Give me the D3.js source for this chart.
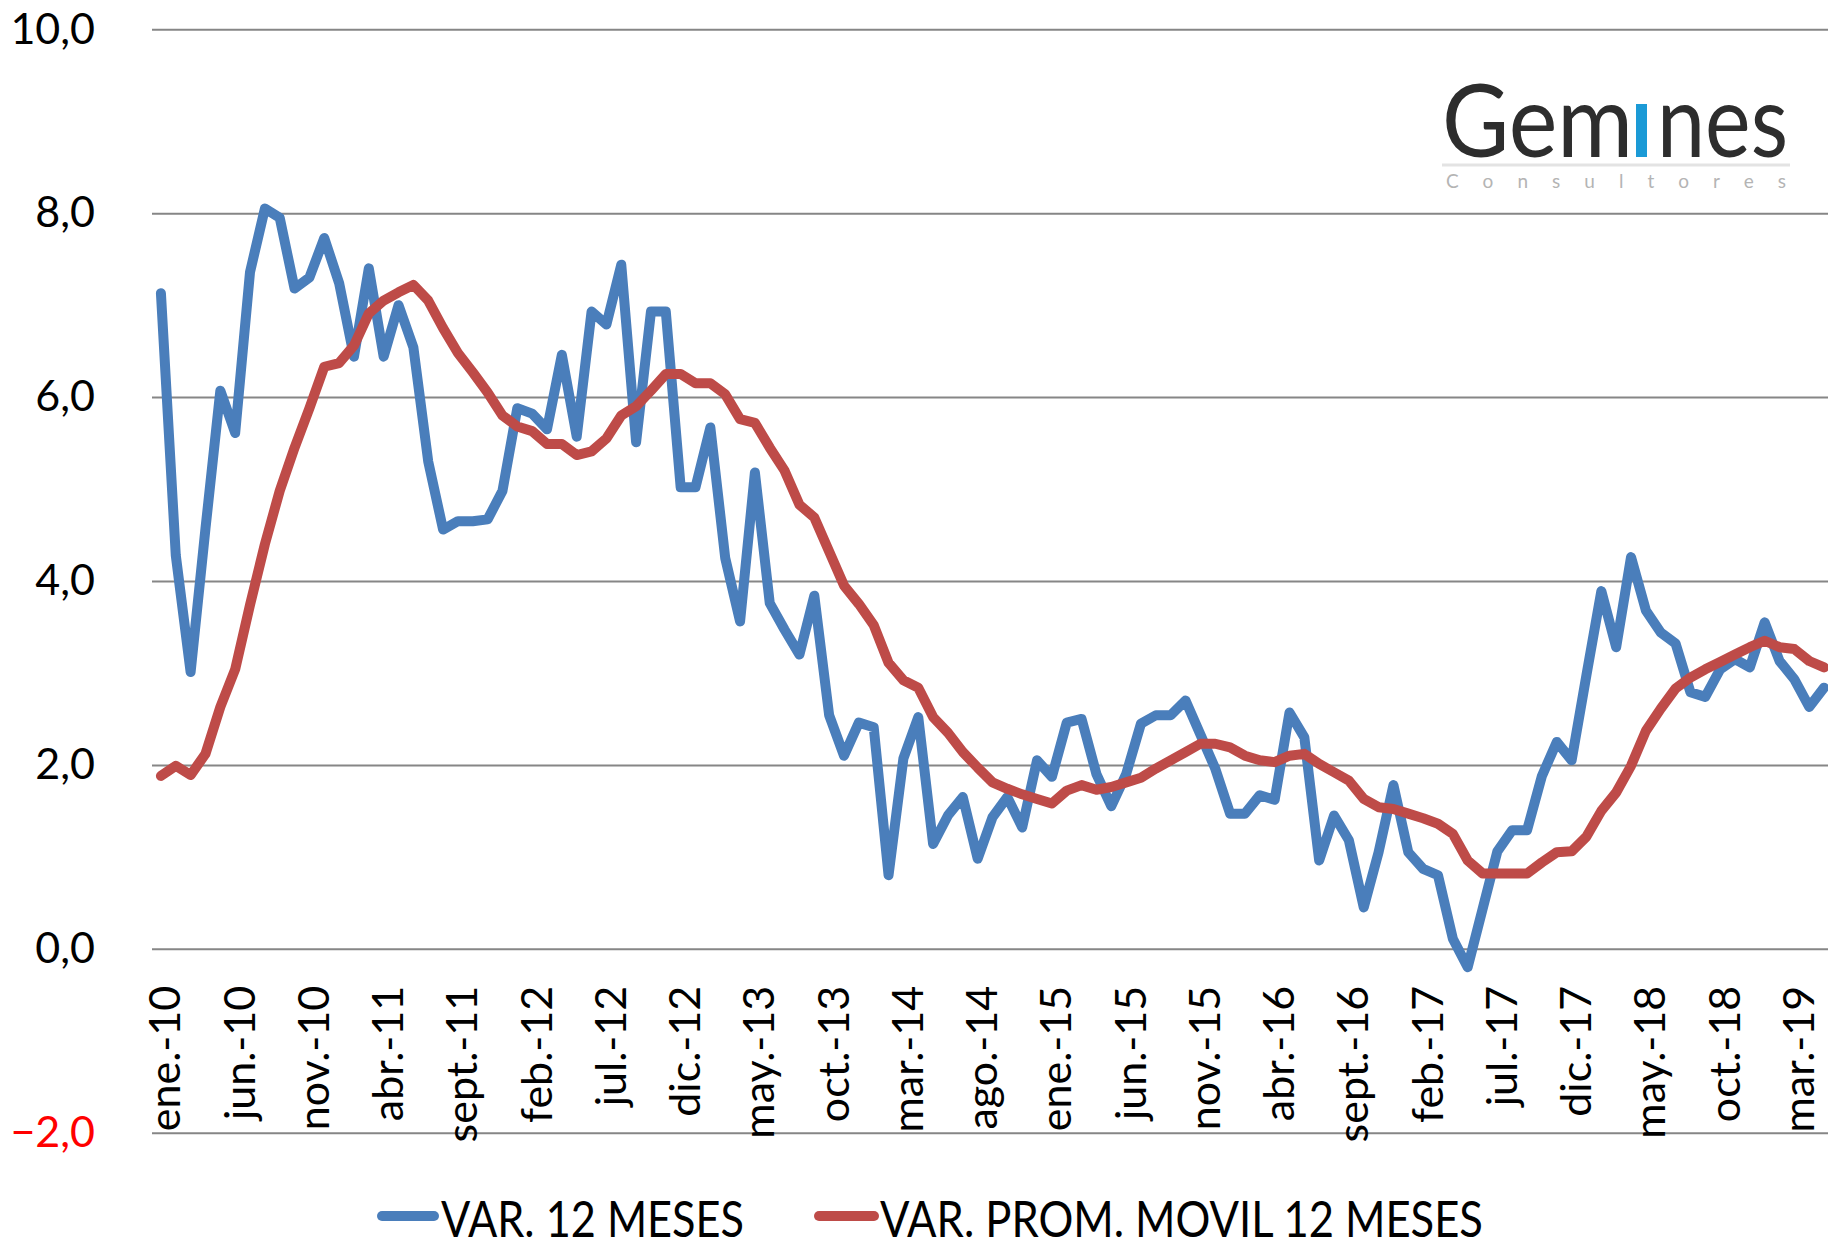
<!DOCTYPE html>
<html>
<head>
<meta charset="utf-8">
<script src="https://cdn.jsdelivr.net/npm/d3@7"></script>
<style>
    body { margin: 0; background: #ffffff; }
    svg { display: block; }
    text { font-family: Lato, "Open Sans", sans-serif; }
</style>
</head>
<body>
<svg id="chart" width="1828" height="1241"></svg>
<script>
// Layout and style constants used all over the chart
const resources = {
    width: 1828,
    height: 1241,
    plotLeft: 152,
    plotRight: 1828,
    plotTop: 29.3,
    plotBottom: 1132.7,
    gridColor: "#868686",
    blue: "#4a7ebb",
    red: "#be4b48",
    fontSize: 43,
    lineWidth: 10
};

// Monthly series, ene.-10 ... may.-19
const var12 = [
    7.13, 4.28, 3.01, 4.57, 6.07, 5.61, 7.36, 8.05, 7.95, 7.18, 7.30, 7.73,
    7.24, 6.44, 7.40, 6.44, 7.00, 6.54, 5.30, 4.56, 4.65, 4.65, 4.67, 4.98,
    5.88, 5.82, 5.65, 6.46, 5.57, 6.93, 6.79, 7.44, 5.51, 6.93, 6.93, 5.02,
    5.02, 5.67, 4.25, 3.56, 5.18, 3.76, 3.47, 3.20, 3.84, 2.54, 2.10, 2.46,
    2.41, 0.80, 2.07, 2.52, 1.14, 1.45, 1.65, 0.98, 1.43, 1.65, 1.32, 2.05,
    1.87, 2.46, 2.50, 1.90, 1.55, 1.90, 2.45, 2.54, 2.54, 2.70, 2.33, 1.96,
    1.47, 1.47, 1.67, 1.62, 2.57, 2.30, 0.96, 1.45, 1.18, 0.45, 1.05, 1.78,
    1.05, 0.87, 0.80, 0.11, -0.20, 0.43, 1.06, 1.29, 1.29, 1.88, 2.25, 2.05,
    2.98, 3.89, 3.28, 4.26, 3.68, 3.44, 3.32, 2.79, 2.74, 3.04, 3.15, 3.06,
    3.55, 3.13, 2.93, 2.63, 2.84
];
const varPromMovil = [
    1.88, 1.99, 1.89, 2.12, 2.63, 3.04, 3.74, 4.40, 4.98, 5.45, 5.88, 6.33,
    6.37, 6.56, 6.91, 7.05, 7.14, 7.22, 7.05, 6.75, 6.48, 6.27, 6.05, 5.80,
    5.68, 5.63, 5.49, 5.49, 5.37, 5.41, 5.55, 5.80, 5.90, 6.07, 6.25, 6.25,
    6.15, 6.15, 6.03, 5.76, 5.72, 5.45, 5.20, 4.83, 4.69, 4.32, 3.95, 3.75,
    3.52, 3.11, 2.92, 2.84, 2.52, 2.35, 2.14, 1.97, 1.81, 1.74, 1.68, 1.63,
    1.58, 1.72, 1.78, 1.73, 1.76, 1.81, 1.86, 1.96, 2.05, 2.14, 2.23, 2.23,
    2.19, 2.10, 2.05, 2.03, 2.10, 2.12, 2.01, 1.92, 1.83, 1.63, 1.54, 1.52,
    1.47, 1.42, 1.36, 1.25, 0.96, 0.82, 0.82, 0.82, 0.82, 0.94, 1.05, 1.06,
    1.22, 1.50, 1.70, 1.99, 2.37, 2.61, 2.83, 2.95, 3.04, 3.12, 3.20, 3.28,
    3.35, 3.28, 3.26, 3.13, 3.06
];

const monthNames = ["ene.", "feb.", "mar.", "abr.", "may.", "jun.", "jul.", "ago.", "sept.", "oct.", "nov.", "dic."];
const months = var12.map((v, i) => monthNames[i % 12] + "-" + (10 + Math.floor(i / 12)));

const svg = d3.select("#chart");

const x = d3
    .scalePoint()
    .domain(d3.range(var12.length))
    .range([153.5, 1831.5])
    .padding(0.5);

const y = d3
    .scaleLinear()
    .domain([-2, 10])
    .range([resources.plotBottom, resources.plotTop]);

const comma = (d) => d3.format(".1f")(d).replace(".", ",");

drawYAxis();
drawXAxis();
drawSeries(var12, resources.blue);
drawSeries(varPromMovil, resources.red);
drawLegend();
drawLogo();

/**
 * Horizontal grid lines together with the value labels on the left
 */
function drawYAxis() {
    let axis = d3
        .axisLeft(y)
        .tickValues(d3.range(-2, 11, 2))
        .tickSizeInner(-(resources.plotRight - resources.plotLeft))
        .tickSizeOuter(0)
        .tickPadding(57)
        .tickFormat(comma);

    let g = svg
        .append("g")
        .attr("transform", "translate(" + resources.plotLeft + ",0)")
        .call(axis);

    g.select(".domain").remove();
    g.selectAll(".tick line")
        .attr("stroke", resources.gridColor)
        .attr("stroke-width", 2);
    g.selectAll(".tick text")
        .attr("font-family", "Lato, sans-serif")
        .attr("font-size", resources.fontSize)
        .attr("fill", (d) => (d < 0 ? "#ff0000" : "#000000"));
}

/**
 * Month labels, one every five months, written upwards under the zero line
 */
function drawXAxis() {
    let axis = d3
        .axisBottom(x)
        .tickValues(x.domain().filter((i) => i % 5 === 0))
        .tickSize(0)
        .tickFormat((i) => months[i]);

    let g = svg
        .append("g")
        .attr("transform", "translate(0," + y(0) + ")")
        .call(axis);

    g.select(".domain").remove();
    g.selectAll(".tick text")
        .attr("font-family", "Lato, sans-serif")
        .attr("font-size", resources.fontSize)
        .attr("fill", "#000000")
        .attr("transform", "rotate(-90)")
        .attr("text-anchor", "end")
        .attr("x", -37)
        .attr("y", 19)
        .attr("dy", 0);
}

/**
 * Draws one line series
 * @param {number[]} values
 * @param {string} color
 */
function drawSeries(values, color) {
    let line = d3
        .line()
        .x((d, i) => x(i))
        .y((d) => y(d));

    svg.append("path")
        .datum(values)
        .attr("d", line)
        .attr("fill", "none")
        .attr("stroke", color)
        .attr("stroke-width", resources.lineWidth)
        .attr("stroke-linejoin", "round")
        .attr("stroke-linecap", "round");
}

/**
 * Legend under the month labels
 */
function drawLegend() {
    let items = [
        { label: "VAR. 12 MESES", color: resources.blue, x0: 382, x1: 434, tx: 441, tw: 303 },
        { label: "VAR. PROM. MOVIL 12 MESES", color: resources.red, x0: 819, x1: 874, tx: 880, tw: 603 }
    ];

    let g = svg.append("g").attr("class", "legend");

    g.selectAll("line")
        .data(items)
        .enter()
        .append("line")
        .attr("x1", (d) => d.x0)
        .attr("x2", (d) => d.x1)
        .attr("y1", 1216)
        .attr("y2", 1216)
        .attr("stroke", (d) => d.color)
        .attr("stroke-width", 10)
        .attr("stroke-linecap", "round");

    g.selectAll("text")
        .data(items)
        .enter()
        .append("text")
        .attr("x", (d) => d.tx)
        .attr("y", 1237)
        .attr("font-size", 50)
        .attr("fill", "#000000")
        .attr("textLength", (d) => d.tw)
        .attr("lengthAdjust", "spacingAndGlyphs")
        .text((d) => d.label);
}

/**
 * Company mark in the upper right corner
 */
function drawLogo() {
    let g = svg.append("g").attr("class", "logo");

    // the word is split around the coloured stem of the "i"
    let parts = [
        { text: "Gem", x: 1442, w: 191 },
        { text: "nes", x: 1657, w: 131 }
    ];
    g.selectAll("text.word")
        .data(parts)
        .enter()
        .append("text")
        .attr("class", "word")
        .attr("x", (d) => d.x)
        .attr("y", 157)
        .attr("font-size", 100)
        .attr("fill", "#2d2d2d")
        .attr("textLength", (d) => d.w)
        .attr("lengthAdjust", "spacingAndGlyphs")
        .text((d) => d.text);

    g.append("rect")
        .attr("x", 1636)
        .attr("y", 104)
        .attr("width", 11)
        .attr("height", 53)
        .attr("fill", "#1b9ad6");

    g.append("line")
        .attr("x1", 1442)
        .attr("x2", 1790)
        .attr("y1", 165)
        .attr("y2", 165)
        .attr("stroke", "#e3e3e3")
        .attr("stroke-width", 3);

    g.append("text")
        .attr("x", 1446)
        .attr("y", 188)
        .attr("font-size", 19)
        .attr("fill", "#b4b4b4")
        .attr("textLength", 340)
        .attr("lengthAdjust", "spacing")
        .text("Consultores");
}
</script>
</body>
</html>
